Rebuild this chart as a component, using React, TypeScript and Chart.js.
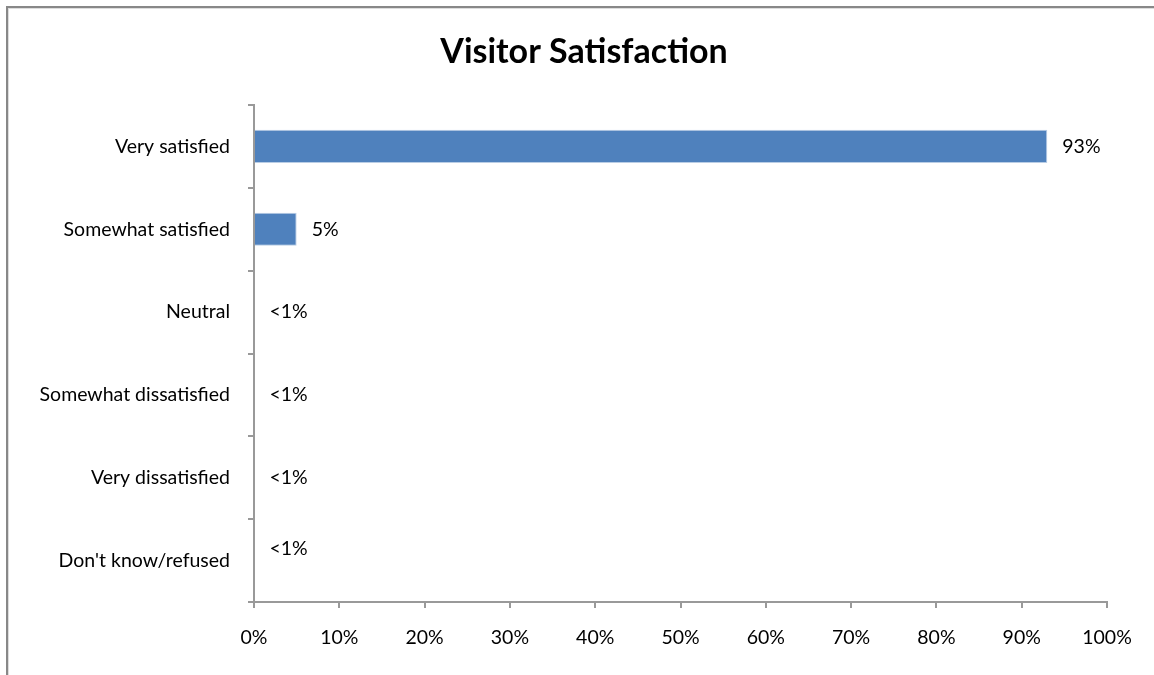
import React, { useEffect, useRef } from "react";
import { Chart, registerables } from "chart.js";

Chart.register(...registerables);

const title = "Visitor Satisfaction";
const categories = [
  "Very satisfied",
  "Somewhat satisfied",
  "Neutral",
  "Somewhat dissatisfied",
  "Very dissatisfied",
  "Don't know/refused",
];
const values = [93, 5, 0.05, 0.05, 0.05, 0.05];
const valueLabels = ["93%", "5%", "<1%", "<1%", "<1%", "<1%"];
const xTicks = [0, 10, 20, 30, 40, 50, 60, 70, 80, 90, 100];

const FONT = "Lato, 'Open Sans', sans-serif";
const FS = 19.5;

const labelPlugin = {
  id: "valueLabels",
  afterDatasetsDraw(chart: any) {
    const ctx = chart.ctx;
    const meta = chart.getDatasetMeta(0);
    ctx.save();
    ctx.font = `${FS}px ${FONT}`;
    ctx.fillStyle = "#000";
    ctx.textAlign = "left";
    ctx.textBaseline = "middle";
    meta.data.forEach((el: any, i: number) => {
      const dy = i === meta.data.length - 1 ? -12 : 0;
      ctx.fillText(valueLabels[i], el.x + 15, el.y + dy);
    });
    ctx.font = `bold 34px ${FONT}`;
    ctx.textAlign = "center";
    ctx.fillText(title, 584, 52);
    ctx.restore();
  },
};

export default function App() {
  const ref = useRef<HTMLCanvasElement>(null);
  useEffect(() => {
    const chart = new Chart(ref.current!, {
      type: "bar",
      data: {
        labels: categories,
        datasets: [
          {
            data: values,
            backgroundColor: (c: any) => (c.raw >= 1 ? "#4f81bd" : "rgba(0,0,0,0)"),
            borderColor: "#b9cde5",
            borderWidth: (c: any) => (c.raw >= 1 ? 1 : 0),
            categoryPercentage: 1,
            barPercentage: 0.4,
          },
        ],
      },
      options: {
        indexAxis: "y",
        responsive: false,
        animation: false,
        devicePixelRatio: 1,
        layout: { padding: { top: 105, right: 47, bottom: 0, left: 0 } },
        plugins: {
          legend: { display: false },
          tooltip: { enabled: false },
          title: { display: false },
        },
        scales: {
          x: {
            min: 0,
            max: 100,
            afterBuildTicks(axis: any) {
              axis.ticks = xTicks.map((v) => ({ value: v }));
            },
            afterFit(axis: any) {
              axis.height = 73;
            },
            ticks: {
              callback: (v: any) => v + "%",
              color: "#000",
              font: { family: FONT, size: FS },
              padding: 18,
              maxRotation: 0,
            },
            grid: {
              drawOnChartArea: false,
              drawTicks: true,
              tickLength: 6,
              color: "#999",
              lineWidth: 2,
            },
            border: { color: "#999", width: 2 },
          },
          y: {
            afterFit(axis: any) {
              axis.width = 254;
            },
            ticks: {
              color: "#000",
              font: { family: FONT, size: FS },
              padding: 18,
            },
            grid: {
              offset: true,
              drawOnChartArea: false,
              drawTicks: true,
              tickLength: 6,
              color: "#999",
              lineWidth: 2,
            },
            border: { color: "#999", width: 2 },
          },
        },
      },
      plugins: [labelPlugin],
    } as any);
    return () => chart.destroy();
  }, []);

  return (
    <div
      style={{
        position: "fixed",
        left: 0,
        top: 0,
        width: 1154,
        height: 675,
        overflow: "hidden",
        background: "#fff",
      }}
    >
      <div
        style={{
          position: "absolute",
          left: 6,
          top: 6,
          width: 1300,
          height: 800,
          borderTop: "2px solid #888",
          borderLeft: "2px solid #888",
          boxShadow: "inset 1px 1px 0 #ddd",
        }}
      />
      <canvas
        ref={ref}
        width={1154}
        height={675}
        style={{ position: "absolute", left: 0, top: 0 }}
      />
    </div>
  );
}
